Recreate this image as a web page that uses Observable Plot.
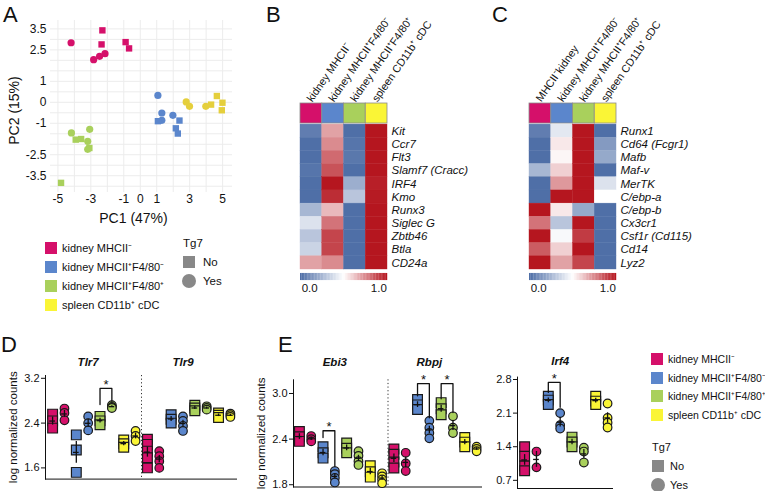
<!DOCTYPE html>
<html><head><meta charset="utf-8">
<script src="https://cdn.jsdelivr.net/npm/d3@7"></script>
<script src="https://cdn.jsdelivr.net/npm/@observablehq/plot@0.6"></script>
<style>
body{margin:0;background:#fff;}
#fig{position:relative;width:765px;height:491px;overflow:hidden;background:#fff;font-family:"Liberation Sans",Arial,sans-serif;color:#111;}
#fig svg{position:absolute;left:0;top:0;}
.lab{position:absolute;font-size:22px;line-height:22px;}
.leg{position:absolute;font-size:11px;line-height:12px;white-space:nowrap;}
.sw{position:absolute;width:12px;height:12px;}
</style></head><body><div id="fig"></div>
<script>
// ---------- shared categories ----------
const groups = ["kidney MHCII⁻", "kidney MHCII⁺F4/80⁻", "kidney MHCII⁺F4/80⁺", "spleen CD11b⁺ cDC"];
const tgLevels = ["No", "Yes"];
const groupColors = ["#d5106a", "#5b86cc", "#a9d05c", "#faf536"];
const pcaColors = ["#d5106a", "#5b86cc", "#a9d05c", "#e5cf3c"];

// ---------- A: PCA ----------
const pc1 = [-4.2,-2.3,-2.35,-0.89,-0.68,-2.83,-2.47,-2.14, 1.07,1.31,1.31,1.98,1.07,2.38,2.16,2.28, 2.79,2.99,3.98,4.30,4.65,4.99,4.95, -4.18,-3.07,-3.92,-3.59,-3.19,-3.19,-3.09,-4.81];
const pc2 = [2.84,3.43,2.76,2.87,2.57,2.03,2.19,2.32, 0.33,-0.51,-0.86,-0.62,-0.9,-0.87,-1.24,-1.49, 0.02,-0.19,-0.19,-0.11,0.30,-0.02,-0.38, -1.46,-1.29,-1.78,-1.75,-1.86,-2.24,-2.18,-3.84];
const pcaGroup = [0,0,0,0,0,0,0,0, 1,1,1,1,1,1,1,1, 3,3,3,3,3,3,3, 2,2,2,2,2,2,2,2];
const pcaTg = ["Yes","No","No","No","No","Yes","Yes","Yes", "Yes","Yes","Yes","Yes","No","No","No","No", "Yes","Yes","Yes","No","No","No","No", "Yes","Yes","No","No","Yes","Yes","No","No"];
const aXTicks = [-5,-3,-1,0,1,3,5];
const aYTicks = [3.5,2.5,1,0,-1,-2.5,-3.5];
const aGridX = [-5,-4,-3,-2,-1,0,1,2,3,4,5];
const aGridY = [-4,-3.5,-3,-2.5,-2,-1.5,-1,-0.5,0,0.5,1,1.5,2,2.5,3,3.5];

// ---------- B heatmap ----------
const bCols = ["kidney MHCII⁻", "kidney MHCII⁺F4/80⁻", "kidney MHCII⁺F4/80⁺", "spleen CD11b⁺ cDC"];
const bGenes = ["Kit","Ccr7","Flt3","Slamf7 (Cracc)","IRF4","Kmo","Runx3","Siglec G","Zbtb46","Btla","CD24a"];
const bValues = [
  [0.05,0.70,0.00,1.00],[0.00,0.75,0.02,1.00],[0.00,0.82,0.03,1.00],[0.02,0.87,0.00,1.00],
  [0.00,1.00,0.22,0.98],[0.00,0.95,0.30,0.99],[0.25,0.65,0.00,1.00],[0.40,0.80,0.00,1.00],
  [0.30,0.90,0.00,1.00],[0.35,0.90,0.00,1.00],[0.70,0.75,0.00,1.00]];

// ---------- C heatmap ----------
const cCols = ["MHCII⁻kidney", "kidney MHCII⁺F4/80⁻", "kidney MHCII⁺F4/80⁺", "spleen CD11b⁺ cDC"];
const cGenes = ["Runx1","Cd64 (Fcgr1)","Mafb","Maf-v","MerTK","C/ebp-a","C/ebp-b","Cx3cr1","Csf1r (Cd115)","Cd14","Lyz2"];
const cValues = [
  [0.05,0.42,1.00,0.00],[0.00,0.55,1.00,0.15],[0.00,0.52,1.00,0.20],[0.25,0.60,1.00,0.00],
  [0.00,0.72,1.00,0.40],[0.00,1.00,1.00,0.50],[1.00,0.55,0.20,0.00],[0.80,0.30,1.00,0.00],
  [1.00,0.48,0.92,0.00],[0.85,0.60,1.00,0.00],[1.00,0.70,0.90,0.00]];
const rampLabels = ["0.0","1.0"];

// ---------- D / E counts: [group][tg: No, Yes] ----------
const dGenes = ["Tlr7","Tlr9"];
const tlr7 = [[[2.56,2.44,2.31],[2.66,2.58,2.45]], [[2.19,1.92,1.52],[2.52,2.40,2.27]], [[2.52,2.44,2.37],[2.72,2.69,2.67]], [[2.10,2.03,1.97],[2.26,2.17,2.08]]];
const tlr9 = [[[2.11,2.02,1.90,1.78,1.60],[1.90,1.81,1.72,1.60]], [[2.55,2.47,2.40],[2.52,2.44,2.35,2.26]], [[2.72,2.67,2.62],[2.70,2.67,2.64]], [[2.58,2.54,2.50],[2.57,2.54,2.51]]];
const eGenes = ["Ebi3","Rbpj"];
const ebi3 = [[[2.50,2.43,2.37],[2.44,2.40,2.37]], [[2.30,2.22,2.15],[1.98,1.94,1.89,1.83]], [[2.35,2.28,2.22],[2.24,2.18,2.11,2.06]], [[2.05,1.97,1.90],[1.95,1.91,1.87,1.82]]];
const rbpj = [[[2.27,2.20,2.10,2.02],[2.22,2.08,1.98]], [[2.92,2.85,2.79],[2.64,2.55,2.48,2.41]], [[2.88,2.80,2.72],[2.70,2.55,2.48]], [[2.42,2.36,2.30],[2.30,2.27,2.24]]];
const fGenes = ["Irf4"];
const irf4 = [[[1.40,1.20,1.00,0.90],[1.30,0.97]], [[2.45,2.37,2.28],[2.10,1.85,1.78]], [[1.60,1.50,1.40],[1.38,1.30,1.07]], [[2.45,2.35,2.28],[2.30,2.00,1.90,1.80]]];
const dYTicks = [1.6,2.4,3.2];
const eYTicks = [1.8,2.4,3.0];
const fYTicks = [0.7,1.4,2.1,2.8];
// significance brackets: gene index, group index, bracket top, left leg end, right leg end
const dBrackets = [{gene:0, group:2, top:3.02, left:2.73, right:2.79}];
const eBrackets = [{gene:0, group:1, top:2.51, left:2.42, right:2.04},
                   {gene:1, group:1, top:3.13, left:2.97, right:2.68},
                   {gene:1, group:2, top:3.13, left:2.93, right:2.75}];
const fBrackets = [{gene:0, group:1, top:2.74, left:2.53, right:2.22}];

// ---------- helpers ----------
const FONT = '"Liberation Sans", Arial, sans-serif';
const base = (fs) => ({width:765, height:491, style:{background:"transparent", overflow:"visible", fontFamily:FONT, fontSize:fs+"px", color:"#111"}});
const heatBlue = "#4f6fa7", heatRed = "#b5161f";
const fig = document.getElementById("fig");

// A
const pca = pc1.map((x,i)=>({pc1:x, pc2:pc2[i], group:groups[pcaGroup[i]], tg:pcaTg[i]}));
fig.append(Plot.plot({...base(12), marginLeft:50, marginRight:533, marginTop:20, marginBottom:299,
  x:{domain:[-5.45,5.6], ticks:aXTicks, tickFormat:d=>String(d), tickSize:0, tickPadding:2, label:null},
  y:{domain:[-4.3,3.9], ticks:aYTicks, tickFormat:d=>String(d), tickSize:0, tickPadding:4, label:null},
  color:{domain:groups, range:pcaColors},
  symbol:{domain:tgLevels, range:["square","circle"]},
  marks:[
    Plot.ruleX(aGridX, {stroke:"#ececec"}),
    Plot.ruleY(aGridY, {stroke:"#ececec"}),
    Plot.dot(pca, {x:"pc1", y:"pc2", fill:"group", symbol:"tg", r:3.6}),
    Plot.text(["PC1 (47%)"], {frameAnchor:"bottom", lineAnchor:"middle", textAnchor:"middle", dy:26, dx:-8, fontSize:14}),
    Plot.text(["PC2 (15%)"], {frameAnchor:"left", lineAnchor:"middle", textAnchor:"middle", dx:-36, dy:4, rotate:-90, fontSize:14})
  ]}));

// heatmaps
function heatmap(cols, genes, values, mLeft) {
  const cells = [];
  values.forEach((row,r)=>row.forEach((v,c)=>cells.push({r,c,v})));
  const ramp = d3.range(60).map(i=>i/59);
  return Plot.plot({...base(11), marginLeft:mLeft, marginRight:765-mLeft-87, marginTop:103, marginBottom:222,
    x:{domain:[0,4], axis:null},
    y:{domain:[-1.6,11], reverse:true, axis:null},
    color:{type:"linear", domain:[0,0.5,1], range:[heatBlue,"#ffffff",heatRed], interpolate:"rgb"},
    marks:[
      ...cols.map((c,i)=>Plot.rect([c], {x1:i, x2:i+1, y1:-1.6, y2:-0.08, fill:groupColors[i], stroke:"#8a8a8a", strokeWidth:0.8})),
      Plot.rect(cells, {x1:"c", x2:d=>d.c+1, y1:"r", y2:d=>d.r+1, fill:"v", stroke:"v", strokeWidth:0.4}),
      Plot.text(genes, {x:4, y:(d,i)=>i+0.5, text:d=>d, dx:4, textAnchor:"start", fontStyle:"italic", fontSize:11.5}),
      Plot.text(cols, {x:(d,i)=>i+0.5, y:-1.6, dy:-3, dx:-2, rotate:-55, textAnchor:"start", text:d=>d, fontSize:10.8}),
      Plot.rect(ramp, {x1:(d,i)=>i*4/60, x2:(d,i)=>(i+1)*4/60+0.01, y1:11.3, y2:11.84, fill:d=>d}),
      Plot.text(rampLabels, {x:(d,i)=>0.42+i*3.18, y:12.45, text:d=>d, fontSize:11.5})
    ]});
}
fig.append(heatmap(bCols, bGenes, bValues, 300));
fig.append(heatmap(cCols, cGenes, cValues, 529));

// dot panels
function flatten(geneData) {
  const out = [];
  geneData.forEach((gd,gi)=>gd.forEach((grp,k)=>grp.forEach((vals,t)=>vals.forEach(v=>out.push({x:gi*8+k*2+t, value:v, group:groups[k], tg:tgLevels[t]})))));
  return out;
}
function dotPanel({genes, data, yDomain, xDomain, ticks, mLeft, mRight, mTop, mBottom, ylabel, brackets, titleDy}) {
  const pts = flatten(data);
  const stats = d3.rollups(pts, v=>{const m=d3.mean(v,d=>d.value); const se=(d3.deviation(v,d=>d.value)||0)/Math.sqrt(v.length); return {mean:m, lo:m-se, hi:m+se};}, d=>d.x)
    .map(([x,s])=>({x,...s}));
  const bpts = [];
  brackets.forEach((b,i)=>{const x1=b.gene*8+b.group*2, x2=x1+1;
    bpts.push({id:i,x:x1,y:b.left},{id:i,x:x1,y:b.top},{id:i,x:x2,y:b.top},{id:i,x:x2,y:b.right});});
  const marks = [
    Plot.ruleY([yDomain[0]], {stroke:"#111"}),
    ...(genes.length>1 ? [Plot.ruleX([7.5], {stroke:"#333", strokeDasharray:"1.2,2.4"})] : []),
    Plot.dot(pts.filter(d=>d.tg==="No"), {x:"x", y:"value", fill:"group", symbol:"square", r:5.5, stroke:"#1a1a1a", strokeWidth:1.2}),
    Plot.dot(pts.filter(d=>d.tg==="Yes"), {x:"x", y:"value", fill:"group", symbol:"circle", r:4.3, stroke:"#1a1a1a", strokeWidth:1.2}),
    Plot.ruleX(stats, {x:"x", y1:"lo", y2:"hi", stroke:"#111", strokeWidth:1.3}),
    Plot.ruleY(stats, {y:"mean", x1:d=>d.x-0.24, x2:d=>d.x+0.24, stroke:"#111", strokeWidth:1.3}),
    Plot.line(bpts, {x:"x", y:"y", z:"id", stroke:"#111", strokeWidth:1.3}),
    Plot.text(brackets, {x:d=>d.gene*8+d.group*2+0.5, y:"top", text:()=>"*", dy:-4, fontSize:13}),
    Plot.text(genes, {x:(d,i)=>i*8+3, frameAnchor:"top", lineAnchor:"middle", dy:titleDy, text:d=>d, fontWeight:"bold", fontStyle:"italic", fontSize:11.5})
  ];
  if (ylabel) marks.push(Plot.text([ylabel], {frameAnchor:"left", lineAnchor:"middle", textAnchor:"middle", dx:-32, rotate:-90, fontSize:11.5}));
  return Plot.plot({...base(11), marginLeft:mLeft, marginRight:mRight, marginTop:mTop, marginBottom:mBottom,
    x:{domain:xDomain, axis:null},
    y:{domain:yDomain, ticks, tickFormat:d3.format(".1f"), tickSize:4, tickPadding:2, line:true, label:null},
    color:{domain:groups, range:groupColors},
    marks});
}
fig.append(dotPanel({genes:dGenes, data:[tlr7,tlr9], yDomain:[1.4,3.25], xDomain:[-0.6,15.6], ticks:dYTicks,
  mLeft:45, mRight:528, mTop:375, mBottom:12.4, ylabel:"log normalized counts", brackets:dBrackets, titleDy:-13}));
fig.append(dotPanel({genes:eGenes, data:[ebi3,rbpj], yDomain:[1.77,3.18], xDomain:[-0.5,15.5], ticks:eYTicks,
  mLeft:293, mRight:283, mTop:379.3, mBottom:4.5, ylabel:"log normalized counts", brackets:eBrackets, titleDy:-17}));
fig.append(dotPanel({genes:fGenes, data:[irf4], yDomain:[0.53,2.85], xDomain:[-0.6,7.5], ticks:fYTicks,
  mLeft:517, mRight:152, mTop:376.6, mBottom:3, ylabel:null, brackets:fBrackets, titleDy:-16}));

// ---------- panel letters & legends (HTML) ----------
function add(cls, css, html){const e=document.createElement("div"); e.className=cls; e.style.cssText=css; if(html!=null) e.innerHTML=html; fig.append(e); return e;}
[["A",3,4],["B",266,4],["C",492,4],["D",1,334],["E",278,334]].forEach(([t,x,y])=>add("lab",`left:${x}px;top:${y}px`,t));
function groupLegend(x, yc, dy, fs, tx) {
  groups.forEach((g,i)=>{
    add("sw", `left:${x}px;top:${yc+i*dy-6}px;background:${groupColors[i]}`);
    add("leg", `left:${tx}px;top:${yc+i*dy-6}px;font-size:${fs}px`, g);
  });
}
function tgLegend(x, y, fs, tx) {
  add("leg", `left:${x}px;top:${y-6}px;font-size:${fs}px`, "Tg7");
  add("sw", `left:${x}px;top:${y+13}px;background:#888`);
  add("leg", `left:${tx}px;top:${y+13}px;font-size:${fs}px`, tgLevels[0]);
  add("sw", `left:${x-1}px;top:${y+31}px;width:14px;height:14px;border-radius:50%;background:#888`);
  add("leg", `left:${tx}px;top:${y+32}px;font-size:${fs}px`, tgLevels[1]);
}
groupLegend(45, 248, 19, 11, 62);
tgLegend(183, 243, 11.5, 203);
groupLegend(651, 359, 18.7, 10.5, 668);
tgLegend(652, 447, 11, 670);
</script></body></html>
